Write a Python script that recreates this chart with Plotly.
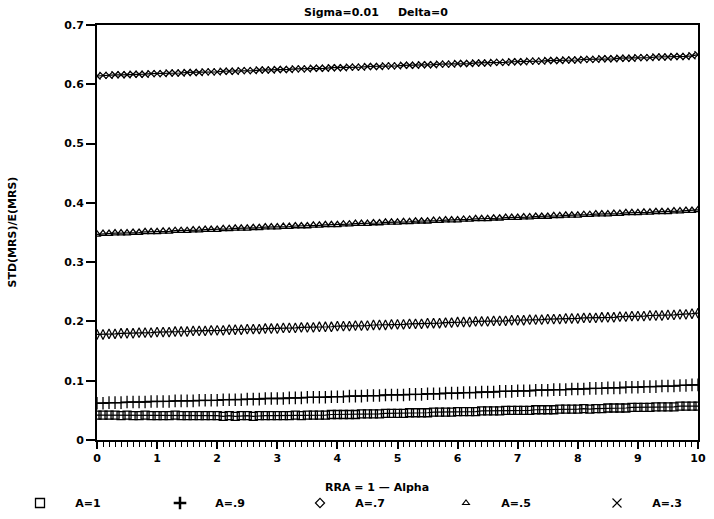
import plotly.graph_objects as go

# RRA grid (1 - alpha), step 0.1 from 0 to 10
rra = [i / 10 for i in range(101)]

ratio_a10 = [
    0.042, 0.042, 0.042, 0.042, 0.041, 0.042, 0.041, 0.041, 0.042, 0.041,
    0.041, 0.041, 0.041, 0.042, 0.041, 0.041, 0.041, 0.041, 0.041, 0.041,
    0.041, 0.040, 0.041, 0.040, 0.041, 0.041, 0.040, 0.041, 0.041, 0.041,
    0.041, 0.041, 0.041, 0.042, 0.041, 0.042, 0.042, 0.042, 0.042, 0.043,
    0.043, 0.043, 0.043, 0.043, 0.044, 0.044, 0.044, 0.044, 0.045, 0.045,
    0.045, 0.045, 0.046, 0.046, 0.046, 0.046, 0.047, 0.047, 0.047, 0.047,
    0.048, 0.048, 0.048, 0.048, 0.049, 0.049, 0.049, 0.049, 0.050, 0.050,
    0.050, 0.050, 0.050, 0.051, 0.051, 0.051, 0.051, 0.052, 0.052, 0.052,
    0.052, 0.053, 0.052, 0.053, 0.053, 0.054, 0.054, 0.054, 0.054, 0.055,
    0.055, 0.055, 0.055, 0.056, 0.056, 0.056, 0.056, 0.057, 0.057, 0.057,
    0.057,
]
ratio_a09 = [
    0.062, 0.062, 0.063, 0.063, 0.063, 0.064, 0.064, 0.064, 0.064, 0.065,
    0.065, 0.065, 0.065, 0.066, 0.066, 0.066, 0.066, 0.067, 0.067, 0.067,
    0.067, 0.068, 0.068, 0.068, 0.068, 0.069, 0.069, 0.069, 0.070, 0.070,
    0.070, 0.070, 0.071, 0.071, 0.071, 0.072, 0.072, 0.072, 0.072, 0.073,
    0.073, 0.073, 0.074, 0.074, 0.074, 0.075, 0.075, 0.075, 0.076, 0.076,
    0.076, 0.076, 0.077, 0.077, 0.077, 0.078, 0.078, 0.078, 0.079, 0.079,
    0.079, 0.080, 0.080, 0.080, 0.081, 0.081, 0.081, 0.082, 0.082, 0.082,
    0.083, 0.083, 0.083, 0.084, 0.084, 0.084, 0.085, 0.085, 0.085, 0.086,
    0.086, 0.086, 0.087, 0.087, 0.087, 0.088, 0.088, 0.088, 0.089, 0.089,
    0.089, 0.090, 0.090, 0.090, 0.091, 0.091, 0.091, 0.092, 0.092, 0.093,
    0.093,
]
ratio_a07 = [
    0.178, 0.178, 0.179, 0.179, 0.180, 0.180, 0.180, 0.181, 0.181, 0.181,
    0.182, 0.182, 0.182, 0.183, 0.183, 0.183, 0.184, 0.184, 0.184, 0.185,
    0.185, 0.185, 0.186, 0.186, 0.186, 0.187, 0.187, 0.187, 0.188, 0.188,
    0.188, 0.189, 0.189, 0.189, 0.190, 0.190, 0.190, 0.191, 0.191, 0.191,
    0.192, 0.192, 0.192, 0.193, 0.193, 0.193, 0.194, 0.194, 0.194, 0.195,
    0.195, 0.195, 0.196, 0.196, 0.196, 0.197, 0.197, 0.197, 0.198, 0.198,
    0.199, 0.199, 0.199, 0.200, 0.200, 0.200, 0.201, 0.201, 0.201, 0.202,
    0.202, 0.202, 0.203, 0.203, 0.203, 0.204, 0.204, 0.204, 0.205, 0.205,
    0.205, 0.206, 0.206, 0.206, 0.207, 0.207, 0.207, 0.208, 0.208, 0.209,
    0.209, 0.209, 0.210, 0.210, 0.210, 0.211, 0.211, 0.212, 0.212, 0.213,
    0.214,
]
ratio_a05 = [
    0.347, 0.348, 0.348, 0.349, 0.349, 0.349, 0.350, 0.350, 0.351, 0.351,
    0.351, 0.352, 0.352, 0.353, 0.353, 0.353, 0.354, 0.354, 0.355, 0.355,
    0.355, 0.356, 0.356, 0.357, 0.357, 0.357, 0.358, 0.358, 0.359, 0.359,
    0.359, 0.360, 0.360, 0.361, 0.361, 0.361, 0.362, 0.362, 0.363, 0.363,
    0.363, 0.364, 0.364, 0.365, 0.365, 0.365, 0.366, 0.366, 0.367, 0.367,
    0.367, 0.368, 0.368, 0.369, 0.369, 0.369, 0.370, 0.370, 0.371, 0.371,
    0.371, 0.372, 0.372, 0.373, 0.373, 0.373, 0.374, 0.374, 0.375, 0.375,
    0.375, 0.376, 0.376, 0.377, 0.377, 0.377, 0.378, 0.378, 0.379, 0.379,
    0.379, 0.380, 0.380, 0.381, 0.381, 0.381, 0.382, 0.382, 0.383, 0.383,
    0.383, 0.384, 0.384, 0.385, 0.385, 0.385, 0.386, 0.386, 0.387, 0.387,
    0.388,
]
ratio_a03 = [
    0.614, 0.615, 0.615, 0.616, 0.616, 0.616, 0.617, 0.617, 0.617, 0.618,
    0.618, 0.618, 0.619, 0.619, 0.619, 0.620, 0.620, 0.620, 0.621, 0.621,
    0.621, 0.622, 0.622, 0.622, 0.623, 0.623, 0.623, 0.624, 0.624, 0.624,
    0.625, 0.625, 0.625, 0.626, 0.626, 0.626, 0.627, 0.627, 0.627, 0.628,
    0.628, 0.628, 0.629, 0.629, 0.629, 0.630, 0.630, 0.630, 0.631, 0.631,
    0.631, 0.632, 0.632, 0.632, 0.633, 0.633, 0.633, 0.634, 0.634, 0.634,
    0.635, 0.635, 0.635, 0.636, 0.636, 0.636, 0.637, 0.637, 0.637, 0.638,
    0.638, 0.638, 0.639, 0.639, 0.639, 0.640, 0.640, 0.640, 0.641, 0.641,
    0.641, 0.642, 0.642, 0.642, 0.643, 0.643, 0.643, 0.644, 0.644, 0.644,
    0.645, 0.645, 0.645, 0.646, 0.646, 0.646, 0.647, 0.647, 0.647, 0.648,
    0.650,
]

labels = ["A=1", "A=.9", "A=.7", "A=.5", "A=.3"]
y_ticks = [0, 0.1, 0.2, 0.3, 0.4, 0.5, 0.6, 0.7]
x_ticks = list(range(11))

series = [ratio_a10, ratio_a09, ratio_a07, ratio_a05, ratio_a03]
plot_markers = [
    dict(symbol="square-open", size=8, line=dict(width=1.3, color="black")),
    dict(symbol="cross-thin-open", size=9, line=dict(width=1.3, color="black")),
    dict(symbol="diamond-tall-open", size=7, line=dict(width=1.2, color="black")),
    dict(symbol="triangle-up-open", size=7, line=dict(width=1.3, color="black")),
    dict(symbol="x-thin-open", size=7, line=dict(width=1.3, color="black")),
]
legend_markers = [
    dict(symbol="square-open", size=9, line=dict(width=1.3, color="black")),
    dict(symbol="cross-thin-open", size=9, line=dict(width=2.5, color="black")),
    dict(symbol="diamond-open", size=7, line=dict(width=1.2, color="black")),
    dict(symbol="triangle-up-open", size=6, line=dict(width=1.1, color="black")),
    dict(symbol="x-thin-open", size=9, line=dict(width=1.1, color="black")),
]
# first three keys in one legend box, last two in a second box
legend_ids = ["legend", "legend", "legend", "legend2", "legend2"]

fig = go.Figure()
for vals, mk in zip(series, plot_markers):
    fig.add_trace(go.Scatter(
        x=rra, y=vals, mode="lines+markers",
        line=dict(color="black", width=1.2),
        marker=dict(color="black", **mk),
        showlegend=False, hoverinfo="skip",
    ))

pad = "\u00a0" * 4
for name, mk, lg in zip(labels, legend_markers, legend_ids):
    fig.add_trace(go.Scatter(
        x=[None], y=[None], mode="markers", name=pad + name,
        marker=dict(color="black", **mk), legend=lg,
    ))

bold = dict(family="DejaVu Sans, sans-serif", size=11,
            color="black", weight="bold")

legend_common = dict(
    orientation="h", xref="container", yref="container",
    y=1 - 503 / 519, xanchor="left", yanchor="middle",
    entrywidthmode="pixels",
    font=bold, bgcolor="rgba(0,0,0,0)", itemclick=False,
    tracegroupgap=0,
)

fig.update_layout(
    width=714, height=519,
    margin=dict(l=97, r=8, t=25, b=79),
    paper_bgcolor="white", plot_bgcolor="white",
    font=bold,
    showlegend=True,
    legend=dict(x=20 / 714, entrywidth=95, **legend_common),
    legend2=dict(x=446 / 714, entrywidth=106, **legend_common),
    xaxis=dict(
        range=[0, 10], tickvals=x_ticks, ticktext=[str(v) for v in x_ticks],
        showgrid=False, zeroline=False,
        showline=True, linecolor="black", linewidth=2, mirror=True,
        ticks="outside", ticklen=7, tickwidth=2, tickcolor="black",
        tickfont=bold,
        minor=dict(dtick=0.1, ticks="outside", ticklen=5, tickwidth=1,
                   tickcolor="black", showgrid=False),
    ),
    yaxis=dict(
        range=[0, 0.7], tickvals=y_ticks,
        ticktext=["0" if v == 0 else f"{v:.1f}" for v in y_ticks],
        showgrid=False, zeroline=False,
        showline=True, linecolor="black", linewidth=2, mirror=True,
        ticks="outside", ticklen=9, tickwidth=2, tickcolor="black",
        tickfont=bold,
    ),
    annotations=[
        dict(text="Sigma=0.01" + "\u00a0" * 5 + "Delta=0", xref="paper", yref="paper",
             x=(380 - 97) / 609, y=1, yshift=13, xanchor="center", yanchor="middle",
             showarrow=False, font=bold),
        dict(text="RRA = 1 \u2014 Alpha", xref="paper", yref="paper",
             x=(381 - 97) / 609, y=0, yshift=-47, xanchor="center", yanchor="middle",
             showarrow=False, font=bold),
        dict(text="STD(MRS)/E(MRS)", xref="paper", yref="paper",
             x=0, xshift=-85, y=0.5, textangle=-90, xanchor="center",
             yanchor="middle", showarrow=False, font=bold),
    ],
)

fig.write_html("out.html")
